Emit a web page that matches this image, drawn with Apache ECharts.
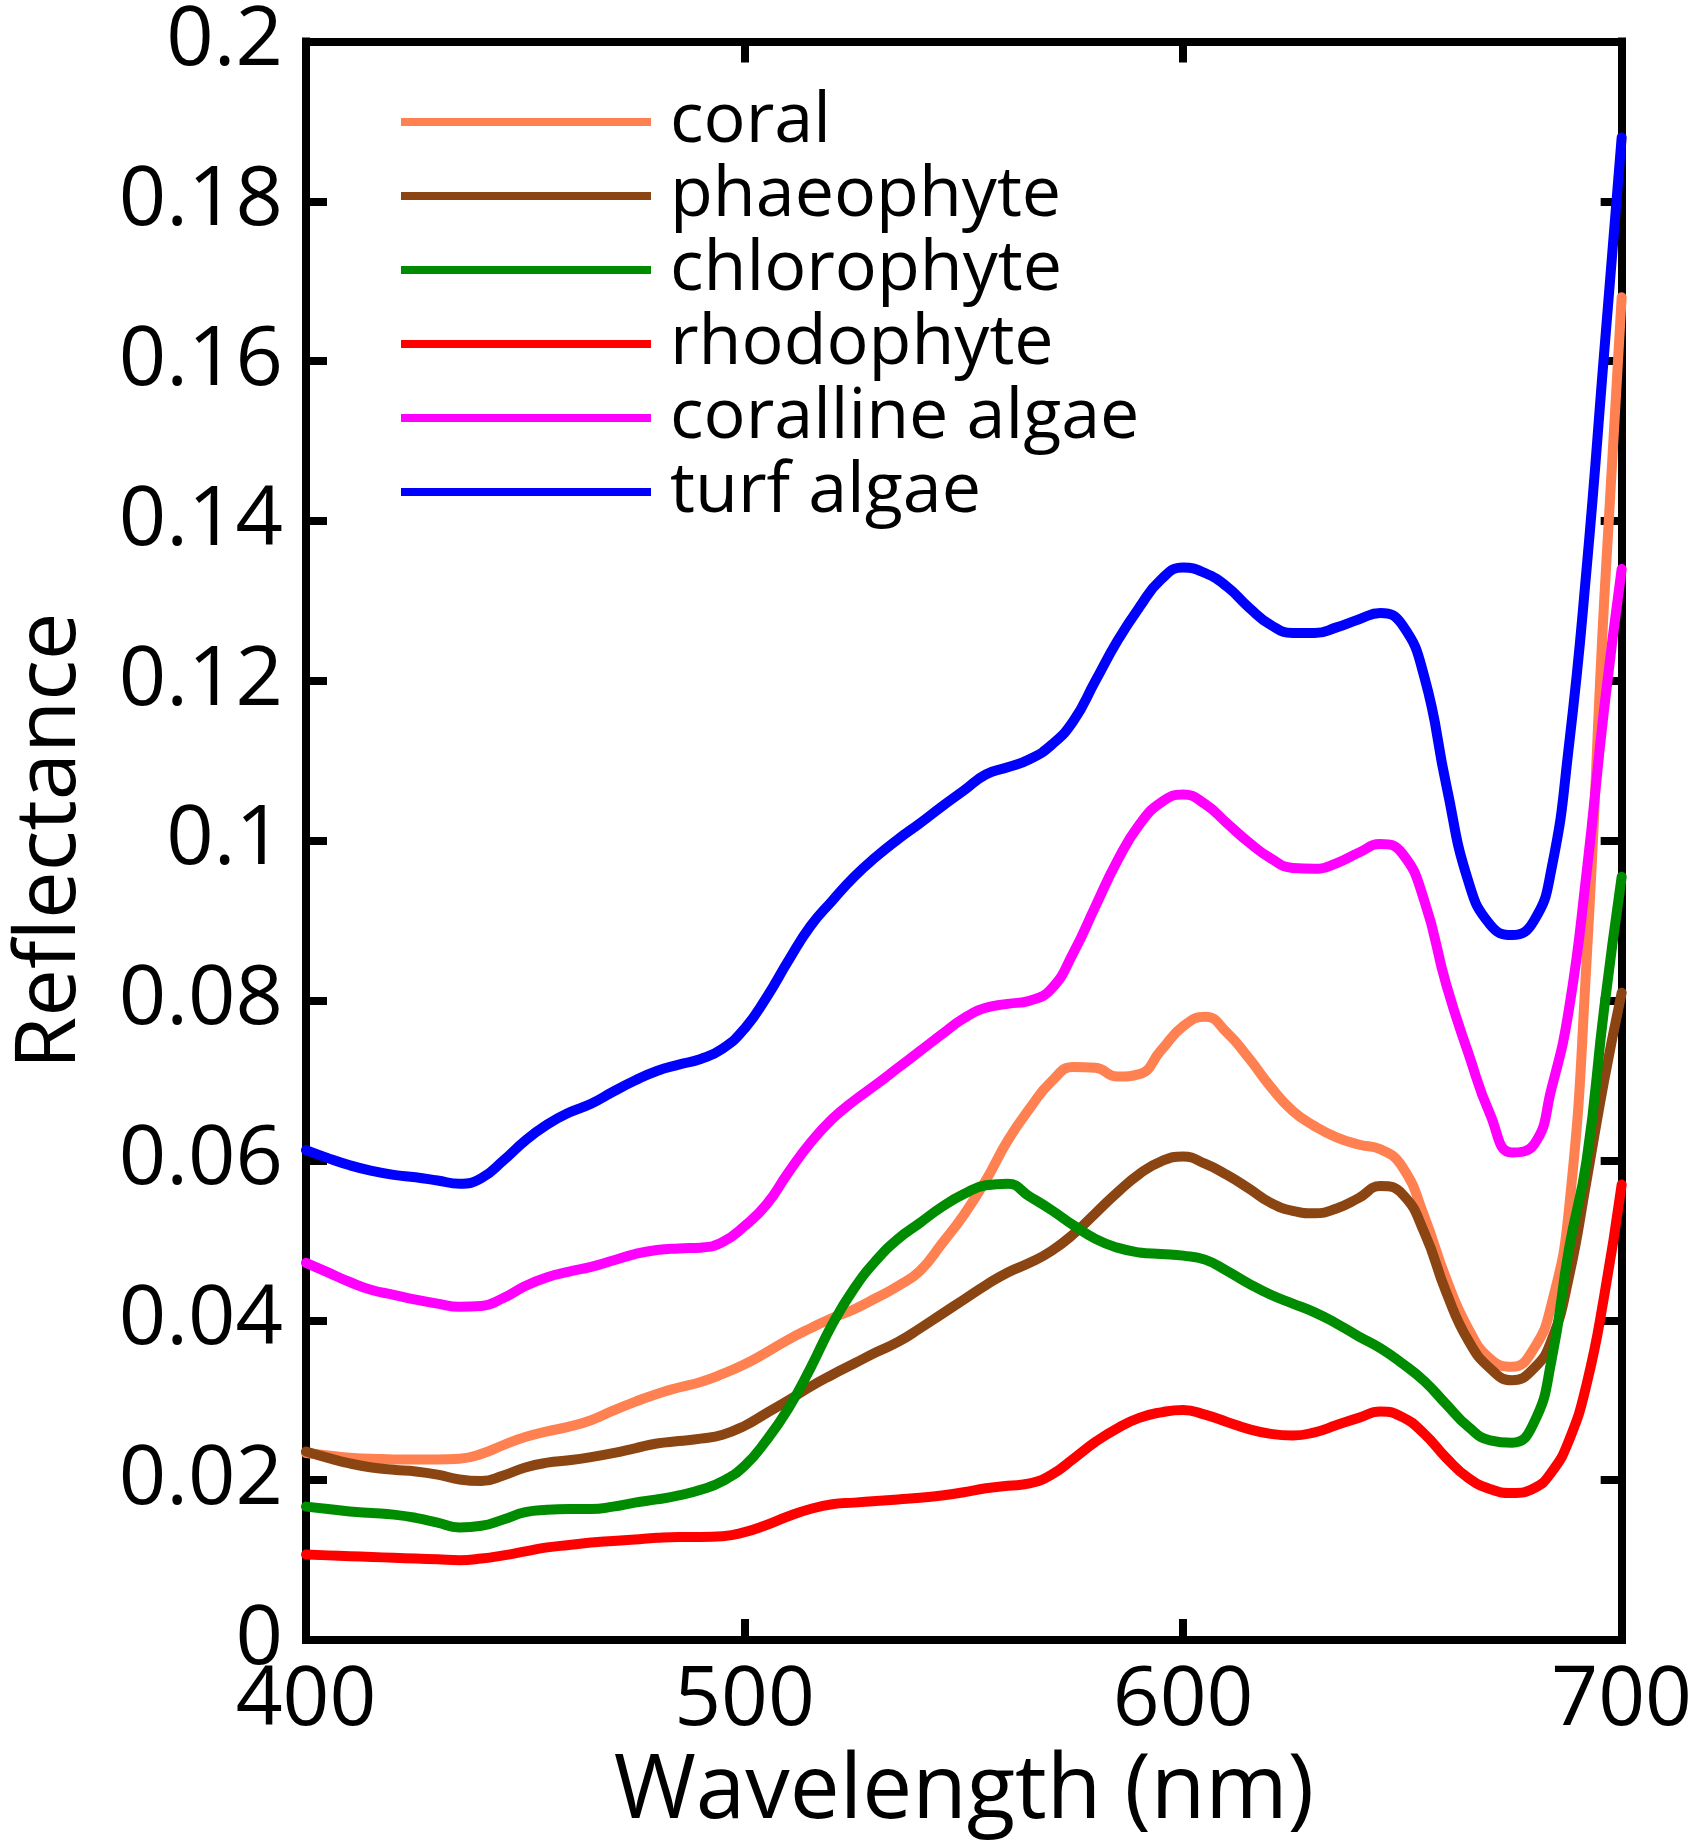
<!DOCTYPE html>
<html>
<head>
<meta charset="utf-8">
<script src="https://cdn.jsdelivr.net/npm/echarts@6/dist/echarts.min.js"></script>
<style>
html,body{margin:0;padding:0;background:#fff;}
#chart{width:1695px;height:1842px;}
</style>
</head>
<body>
<div id="chart"></div>
<script>
const wavelengths = [400,405,410,415,420,425,430,435,440,445,450,455,460,465,470,475,480,485,490,495,500,505,510,515,520,525,530,535,540,545,550,555,560,565,570,575,580,585,590,595,600,605,610,615,620,625,630,635,640,645,650,655,660,665,670,675,680,684,688,692,696,700];

const coral = [.0234,.0231,.0228,.0227,.0226,.0226,.0226,.0227,.0233,.0244,.0254,.0261,.0267,.0275,.0287,.0298,.0308,.0316,.0323,.0333,.0345,.0360,.0376,.0390,.0403,.0414,.0428,.0443,.0462,.0496,.0532,.0575,.0625,.0665,.0699,.0717,.0716,.0705,.0708,.0738,.0768,.0780,.0760,.0728,.0692,.0662,.0643,.0629,.0620,.0614,.0592,.0530,.0452,.0390,.0352,.0342,.0365,.0420,.0540,.0850,.1300,.1680];

const phaeophyte = [.0236,.0228,.0221,.0216,.0213,.0211,.0207,.0201,.0199,.0206,.0216,.0222,.0225,.0229,.0234,.0240,.0246,.0249,.0252,.0257,.0268,.0284,.0300,.0317,.0332,.0346,.0360,.0373,.0390,.0408,.0426,.0444,.0460,.0472,.0487,.0508,.0534,.0560,.0583,.0599,.0605,.0596,.0582,.0565,.0547,.0537,.0534,.0540,.0553,.0568,.0558,.0510,.0435,.0375,.0340,.0325,.0340,.0375,.0455,.0575,.0700,.0810];

const chlorophyte = [.0167,.0164,.0161,.0159,.0157,.0153,.0147,.0141,.0143,.0151,.0160,.0163,.0164,.0164,.0167,.0172,.0176,.0181,.0188,.0199,.0218,.0250,.0290,.0340,.0395,.0440,.0475,.0502,.0522,.0542,.0558,.0569,.0571,.0555,.0538,.0519,.0502,.0491,.0485,.0483,.0481,.0476,.0462,.0446,.0432,.0421,.0410,.0396,.0380,.0365,.0346,.0324,.0295,.0267,.0250,.0247,.0272,.0350,.0490,.0600,.0790,.0955];

const rhodophyte = [.0107,.0106,.0105,.0104,.0103,.0102,.0101,.0100,.0102,.0106,.0111,.0116,.0119,.0122,.0124,.0126,.0128,.0129,.0129,.0130,.0135,.0144,.0155,.0164,.0170,.0172,.0174,.0176,.0178,.0181,.0185,.0190,.0193,.0196,.0207,.0227,.0248,.0265,.0278,.0285,.0288,.0282,.0273,.0264,.0258,.0256,.0260,.0269,.0278,.0286,.0279,.0258,.0228,.0203,.0189,.0184,.0190,.0210,.0250,.0320,.0430,.0570];

const corallineAlgae = [.0472,.0460,.0448,.0438,.0432,.0426,.0421,.0417,.0418,.0428,.0443,.0454,.0461,.0467,.0475,.0483,.0488,.0490,.0491,.0498,.0518,.0545,.0585,.0622,.0652,.0675,.0695,.0716,.0737,.0758,.0778,.0791,.0796,.0800,.0815,.0860,.0918,.0975,.1020,.1048,.1058,.1046,.1022,.0998,.0978,.0966,.0965,.0972,.0985,.0996,.0984,.0925,.0820,.0735,.0658,.0610,.0620,.0690,.0790,.0960,.1165,.1340];

const turfAlgae = [.0613,.0603,.0594,.0587,.0582,.0579,.0575,.0571,.0578,.0600,.0625,.0645,.0660,.0671,.0686,.0700,.0712,.0720,.0727,.0740,.0765,.0804,.0850,.0893,.0925,.0955,.0980,.1002,.1022,.1043,.1063,.1083,.1092,.1102,.1120,.1150,.1200,.1250,.1292,.1327,.1342,.1335,.1318,.1292,.1270,.1260,.1260,.1267,.1277,.1285,.1270,.1205,.1070,.0950,.0895,.0882,.0900,.0965,.1120,.1340,.1610,.1880];

const seriesNames = ['coral','phaeophyte','chlorophyte','rhodophyte','coralline algae','turf algae'];
const seriesColors = ['#FF8050','#8B4513','#008C00','#FF0000','#FF00FF','#0000FF'];
const seriesValues = [coral, phaeophyte, chlorophyte, rhodophyte, corallineAlgae, turfAlgae];

const xTicks = [400, 700, 100];   // min, max, interval
const yTicks = [0, 0.2, 0.02];

const FONT = "'Open Sans', 'Noto Sans', sans-serif";
const chart = echarts.init(document.getElementById('chart'), null, {renderer: 'canvas'});

const axisLineStyle = {color: '#000', width: 8, cap: 'square'};
const tickStyle = {show: true, inside: true, length: 21, lineStyle: {color: '#000', width: 8}};

function yFmt(v){ return String(parseFloat(v.toFixed(2))); }

const option = {
  backgroundColor: '#fff',
  animation: false,
  grid: {left: 295, right: 66, top: 33, bottom: 198, containLabel: false},
  legend: {
    orient: 'vertical',
    left: 396,
    top: 80,
    icon: 'rect',
    itemWidth: 250,
    itemHeight: 8,
    itemGap: 0,
    data: seriesNames,
    textStyle: {fontFamily: FONT, fontSize: 70, lineHeight: 74, color: '#000', padding: [0,0,0,14]}
  },
  xAxis: [{
    type: 'value', position: 'bottom',
    min: xTicks[0], max: xTicks[1], interval: xTicks[2],
    name: 'Wavelength (nm)', nameLocation: 'middle', nameGap: 99,
    nameTextStyle: {fontFamily: FONT, fontSize: 89, color: '#000'},
    axisLine: {show: true, onZero: false, lineStyle: axisLineStyle},
    axisTick: tickStyle,
    axisLabel: {fontFamily: FONT, fontSize: 82, color: '#000', margin: 21},
    splitLine: {show: false}
  },{
    type: 'value', position: 'top',
    min: xTicks[0], max: xTicks[1], interval: xTicks[2],
    axisLine: {show: true, onZero: false, lineStyle: axisLineStyle},
    axisTick: tickStyle,
    axisLabel: {show: false},
    splitLine: {show: false}
  }],
  yAxis: [{
    type: 'value', position: 'left',
    min: yTicks[0], max: yTicks[1], interval: yTicks[2],
    name: 'Reflectance', nameLocation: 'middle', nameGap: 213, nameRotate: 90,
    nameTextStyle: {fontFamily: FONT, fontSize: 85, color: '#000'},
    axisLine: {show: true, onZero: false, lineStyle: axisLineStyle},
    axisTick: tickStyle,
    axisLabel: {fontFamily: FONT, fontSize: 83, color: '#000', margin: 23, formatter: yFmt},
    splitLine: {show: false}
  },{
    type: 'value', position: 'right',
    min: yTicks[0], max: yTicks[1], interval: yTicks[2],
    axisLine: {show: true, onZero: false, lineStyle: axisLineStyle},
    axisTick: tickStyle,
    axisLabel: {show: false},
    splitLine: {show: false}
  }],
  series: seriesNames.map((name, i) => ({
    name: name,
    type: 'line',
    xAxisIndex: 0, yAxisIndex: 0,
    data: wavelengths.map((w, j) => [w, seriesValues[i][j]]),
    showSymbol: false,
    symbol: 'none',
    smooth: 0.5,
    color: seriesColors[i],
    lineStyle: {color: seriesColors[i], width: 10, join: 'round', cap: 'round'},
    clip: true
  }))
};
chart.setOption(option);
</script>
</body>
</html>
